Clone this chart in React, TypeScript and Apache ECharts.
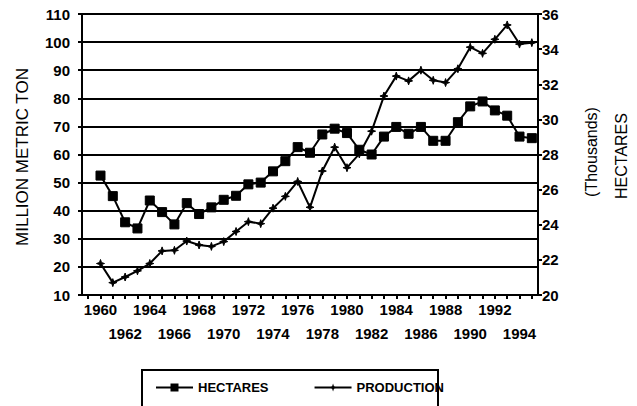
import React, { useEffect, useRef } from "react";
import * as echarts from "echarts";

const years = [
  "1959", "1960", "1961", "1962", "1963", "1964", "1965", "1966", "1967", "1968", "1969",
  "1970", "1971", "1972", "1973", "1974", "1975", "1976", "1977", "1978", "1979",
  "1980", "1981", "1982", "1983", "1984", "1985", "1986", "1987", "1988", "1989",
  "1990", "1991", "1992", "1993", "1994", "1995",
];

// thousands of hectares (right axis)
const hectares = [
  null,
  26.8, 25.63, 24.14, 23.79, 25.38, 24.72, 24.02, 25.23, 24.61, 24.99,
  25.42, 25.65, 26.3, 26.4, 27.04, 27.62, 28.42, 28.1, 29.14, 29.47,
  29.22, 28.27, 28.0, 29.02, 29.57, 29.18, 29.57, 28.78, 28.78, 29.84,
  30.74, 31.02, 30.51, 30.21, 29.02, 28.93,
];

// million metric tons (left axis)
const production = [
  null,
  21.2, 14.4, 16.4, 18.6, 21.2, 25.7, 25.9, 29.2, 27.8, 27.3,
  29.0, 32.6, 36.1, 35.4, 40.9, 45.1, 50.4, 41.2, 54.1, 62.6,
  55.3, 60.2, 68.3, 80.8, 87.9, 86.2, 90.0, 86.4, 85.6, 90.5,
  98.2, 96.0, 101.0, 106.1, 99.3, 99.8,
];

const FONT = "Liberation Sans, Arial, sans-serif";
const STAR = "path://M0,-10 L2.5,-2.5 L10,0 L2.5,2.5 L0,10 L-2.5,2.5 L-10,0 L-2.5,-2.5 Z";

export default function App() {
  const ref = useRef<HTMLDivElement>(null);
  useEffect(() => {
    if (!ref.current) return;
    const chart = echarts.init(ref.current, null, { renderer: "svg" });
    const black = "#000";
    chart.setOption({
      animation: false,
      backgroundColor: "#fff",
      textStyle: { fontFamily: FONT, color: black },
      grid: { left: 82, right: 99, top: 14, bottom: 111 },
      legend: {
        left: 150,
        top: 376,
        itemWidth: 37,
        itemHeight: 10,
        itemGap: 45,
        textStyle: { fontFamily: FONT, fontSize: 13, fontWeight: "bold", color: black },
        data: ["HECTARES", "PRODUCTION"],
      },
      xAxis: {
        type: "category",
        data: years,
        boundaryGap: true,
        axisLine: { show: true, lineStyle: { color: black, width: 2 } },
        axisTick: {
          show: true,
          alignWithLabel: true,
          interval: 0,
          length: 4,
          lineStyle: { color: black, width: 2 },
        },
        axisLabel: {
          interval: 0,
          hideOverlap: false,
          showMinLabel: true,
          showMaxLabel: true,
          formatter: (v: string) => {
            const y = +v;
            if (y < 1960 || y > 1994 || y % 2 !== 0) return "";
            return (y - 1960) % 4 === 0 ? v : "\n" + v;
          },
          fontFamily: FONT,
          fontSize: 15,
          fontWeight: "bold",
          color: black,
          lineHeight: 24,
          margin: 2,
        },
        splitLine: { show: false },
      },
      yAxis: [
        {
          type: "value",
          position: "left",
          min: 10,
          max: 110,
          interval: 10,
          axisLine: { show: true, lineStyle: { color: black, width: 2 } },
          axisTick: { show: true, length: 4, lineStyle: { color: black, width: 2 } },
          axisLabel: {
            fontFamily: FONT,
            fontSize: 15,
            fontWeight: "bold",
            color: black,
            margin: 12,
          },
          splitLine: { show: true, lineStyle: { color: black, width: 2 } },
        },
        {
          type: "value",
          position: "right",
          min: 20,
          max: 36,
          interval: 2,
          axisLine: { show: true, lineStyle: { color: black, width: 2 } },
          axisTick: { show: true, length: 4, lineStyle: { color: black, width: 2 } },
          axisLabel: {
            fontFamily: FONT,
            fontSize: 15,
            fontWeight: "bold",
            color: black,
            margin: 4,
          },
          splitLine: { show: false },
        },
      ],
      series: [
        {
          name: "HECTARES",
          type: "line",
          yAxisIndex: 1,
          data: hectares,
          symbol: "rect",
          symbolSize: 9,
          showAllSymbol: true,
          lineStyle: { color: black, width: 2 },
          itemStyle: { color: black, borderColor: black },
        },
        {
          name: "PRODUCTION",
          type: "line",
          yAxisIndex: 0,
          data: production,
          symbol: STAR,
          symbolSize: 8,
          showAllSymbol: true,
          lineStyle: { color: black, width: 2 },
          itemStyle: { color: black, borderColor: black },
        },
      ],
      graphic: [
        {
          type: "text",
          x: 22,
          y: 157,
          rotation: Math.PI / 2,
          style: {
            text: "MILLION METRIC TON",
            fontFamily: FONT,
            fontSize: 17,
            fill: black,
            textAlign: "center",
            textVerticalAlign: "middle",
          },
        },
        {
          type: "text",
          x: 591,
          y: 152,
          rotation: Math.PI / 2,
          style: {
            text: "(Thousands)",
            fontFamily: FONT,
            fontSize: 16,
            fill: black,
            textAlign: "center",
            textVerticalAlign: "middle",
          },
        },
        {
          type: "text",
          x: 621,
          y: 156,
          rotation: Math.PI / 2,
          style: {
            text: "HECTARES",
            fontFamily: FONT,
            fontSize: 16,
            fill: black,
            textAlign: "center",
            textVerticalAlign: "middle",
          },
        },
        {
          type: "rect",
          shape: { x: 142, y: 370, width: 296, height: 50 },
          style: { fill: "none", stroke: black, lineWidth: 2 },
          z: 0,
        },
      ],
    });
    return () => chart.dispose();
  }, []);
  return (
    <div
      ref={ref}
      style={{ position: "fixed", left: 0, top: 0, width: 637, height: 406 }}
    />
  );
}
